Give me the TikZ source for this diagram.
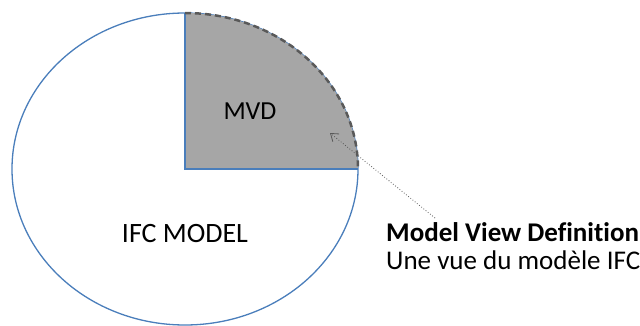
\documentclass[tikz,border=0pt]{standalone}
\usepackage{fontspec}
\setmainfont[Ligatures=NoCommon]{Carlito}
\usetikzlibrary{arrows.meta}

\definecolor{ifcblue}{HTML}{4A7EBB}
\definecolor{mvdgray}{HTML}{A6A6A6}
\definecolor{edgegray}{HTML}{595959}

\begin{document}
\begin{tikzpicture}[x=1pt,y=1pt,
  outline/.style={draw=ifcblue,line width=1.3pt},
  viewarc/.style={draw=edgegray,line width=2.5pt,dash pattern=on 6pt off 4pt},
  label/.style={font=\fontsize{26}{30}\selectfont,inner sep=0pt}]
  \useasboundingbox (0,0) rectangle (640,325);
  \coordinate (c) at (185,156);
  \coordinate (top) at (185,312);
  \coordinate (right) at (358,156);
  % whole model
  \draw[outline] (c) ellipse [x radius=173,y radius=156];
  % view part
  \fill[mvdgray] (c) -- (top) arc[start angle=90,end angle=0,x radius=173,y radius=156] -- cycle;
  \draw[outline] (top) -- (c) -- (right);
  \draw[viewarc] (top) arc[start angle=90,end angle=0,x radius=173,y radius=156];
  \node[label] (mvd) at (250,214) {MVD};
  \node[label,font=\fontsize{28}{32}\selectfont] (ifc) at (185,91) {IFC MODEL};
  \node[label,anchor=west,font=\fontsize{27}{31}\selectfont\bfseries] (defhead) at (386,93) {Model View Definition};
  \node[label,anchor=west,font=\fontsize{27}{31}\selectfont] (defsub) at (386,65) {Une vue du modèle IFC};
  % pointer
  \coordinate (tail) at (435,107);
  \coordinate (head) at (330,192);
  \draw[edgegray,dotted,thick,-{Straight Barb[length=7pt,width=10pt]}] (tail) -- (head);
\end{tikzpicture}
\end{document}
